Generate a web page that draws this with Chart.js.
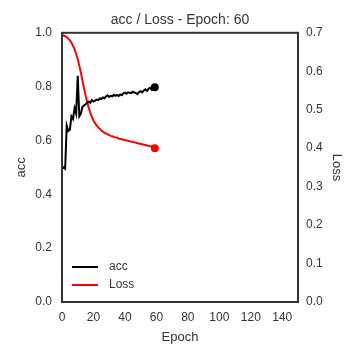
<!DOCTYPE html>
<html>
<head>
<meta charset="utf-8">
<script src="https://cdn.jsdelivr.net/npm/chart.js@4.4.0/dist/chart.umd.min.js"></script>
<style>
  html, body { margin: 0; padding: 0; background: #fff; }
  #wrap { width: 360px; height: 360px; }
</style>
</head>
<body>
<div id="wrap"><canvas id="myChart"></canvas></div>
<script>
const ctx = document.getElementById("myChart").getContext("2d");

const epochs = Array.from({ length: 60 }, (_, i) => i);
const acc = [
  0.495, 0.5, 0.495, 0.655, 0.635, 0.64, 0.69, 0.68, 0.72, 0.7,
  0.84, 0.69, 0.7, 0.725, 0.73, 0.735, 0.74, 0.745, 0.74, 0.75,
  0.745, 0.748, 0.752, 0.75, 0.756, 0.754, 0.76, 0.757, 0.763, 0.768,
  0.762, 0.766, 0.764, 0.77, 0.766, 0.769, 0.765, 0.771, 0.768, 0.775,
  0.778, 0.774, 0.779, 0.777, 0.776, 0.781, 0.778, 0.776, 0.772, 0.78,
  0.783, 0.779, 0.786, 0.79, 0.784, 0.792, 0.796, 0.789, 0.797, 0.798,
];
const loss = [
  0.694, 0.693, 0.691, 0.689, 0.685, 0.68, 0.674, 0.666, 0.657, 0.645,
  0.631, 0.614, 0.596, 0.576, 0.556, 0.537, 0.52, 0.505, 0.492, 0.481,
  0.472, 0.465, 0.459, 0.454, 0.45, 0.446, 0.443, 0.44, 0.438, 0.436,
  0.434, 0.432, 0.431, 0.429, 0.428, 0.427, 0.425, 0.424, 0.423, 0.422,
  0.421, 0.42, 0.419, 0.418, 0.417, 0.416, 0.415, 0.414, 0.413, 0.412,
  0.411, 0.41, 0.409, 0.408, 0.407, 0.406, 0.405, 0.404, 0.402, 0.4,
];
const xTicks = [0, 20, 40, 60, 80, 100, 120, 140];

const FONT = "'Liberation Sans', Arial, sans-serif";
const TXT = "#333";
const last = epochs.length - 1;
const endDot = (c) => (c.dataIndex === last ? 3 : 0);

// box round the plot + legend inside, lower left
const frame = {
  id: "frame",
  afterDatasetsDraw(chart) {
    const a = chart.chartArea;
    const g = chart.ctx;
    g.save();
    g.strokeStyle = "#333";
    g.lineWidth = 2;
    g.strokeRect(a.left, a.top, a.right - a.left, a.bottom - a.top);
    g.font = "12px " + FONT;
    g.textBaseline = "middle";
    chart.data.datasets.forEach((ds, i) => {
      const y = a.bottom - 35 + i * 18;
      g.strokeStyle = ds.borderColor;
      g.lineWidth = 2;
      g.beginPath();
      g.moveTo(a.left + 10, y);
      g.lineTo(a.left + 36, y);
      g.stroke();
      g.fillStyle = TXT;
      g.fillText(ds.label, a.left + 47, y);
    });
    g.restore();
  },
};

const myChart = new Chart(ctx, {
  type: "line",
  data: {
    datasets: [
      {
        label: "acc",
        data: epochs.map((e, i) => ({ x: e, y: acc[i] })),
        borderColor: "#000",
        backgroundColor: "#000",
        borderWidth: 2,
        pointRadius: endDot,
        pointHoverRadius: 0,
        yAxisID: "y",
      },
      {
        label: "Loss",
        data: epochs.map((e, i) => ({ x: e, y: loss[i] })),
        borderColor: "#ff0000",
        backgroundColor: "#ff0000",
        borderWidth: 2,
        pointRadius: endDot,
        pointHoverRadius: 0,
        yAxisID: "y1",
      },
    ],
  },
  options: {
    responsive: true,
    maintainAspectRatio: false,
    animation: false,
    layout: { padding: 0 },
    plugins: {
      legend: { display: false },
      tooltip: { enabled: false },
      title: {
        display: true,
        text: "acc / Loss - Epoch: 60",
        color: TXT,
        font: { family: FONT, size: 14, weight: "normal" },
        padding: { top: 12, bottom: 4 },
      },
    },
    scales: {
      x: {
        type: "linear",
        min: 0,
        max: 150,
        grid: { display: false, drawTicks: false },
        border: { display: false },
        ticks: { color: TXT, font: { family: FONT, size: 12 }, padding: 8, autoSkip: false },
        title: { display: true, text: "Epoch", color: TXT, font: { family: FONT, size: 13 }, padding: { bottom: 15 } },
        afterBuildTicks(s) { s.ticks = xTicks.map((v) => ({ value: v })); },
        afterFit(s) { s.height = 58; },
      },
      y: {
        position: "left",
        min: 0,
        max: 1,
        grid: { display: false, drawTicks: false },
        border: { display: false },
        ticks: { stepSize: 0.2, color: TXT, font: { family: FONT, size: 12 }, padding: 10, callback: (v) => v.toFixed(1) },
        title: { display: true, text: "acc", color: TXT, font: { family: FONT, size: 13 }, padding: { top: 14 } },
        afterFit(s) { s.width = 62; },
      },
      y1: {
        position: "right",
        min: 0,
        max: 0.7,
        grid: { display: false, drawTicks: false },
        border: { display: false },
        ticks: { stepSize: 0.1, color: TXT, font: { family: FONT, size: 12 }, padding: 8, callback: (v) => v.toFixed(1) },
        title: { display: true, text: "Loss", color: TXT, font: { family: FONT, size: 13 }, padding: { top: 16 } },
        afterFit(s) { s.width = 62; },
      },
    },
  },
  plugins: [frame],
});
</script>
</body>
</html>
